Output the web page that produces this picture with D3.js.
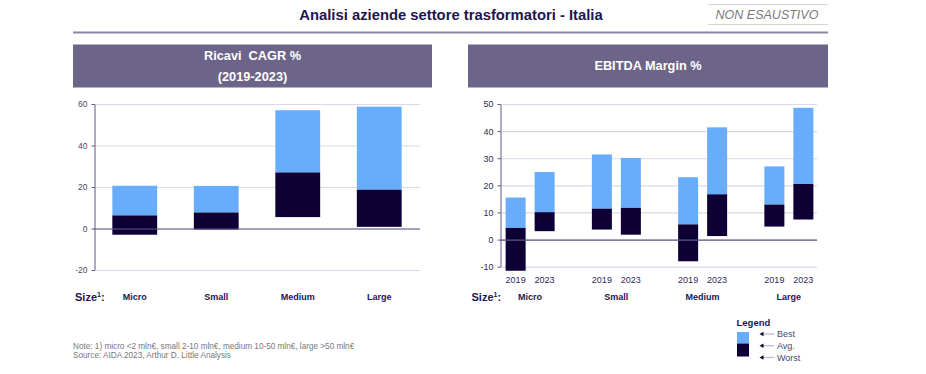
<!DOCTYPE html>
<html>
<head>
<meta charset="utf-8">
<script src="https://cdn.jsdelivr.net/npm/d3@7"></script>
<style>
body { margin: 0; background: #fff; }
svg { font-family: "Liberation Sans", Arial, sans-serif; }
</style>
</head>
<body>
<svg id="chart" width="926" height="374"></svg>
<script>
// data
var sizes = ["Micro", "Small", "Medium", "Large"];
var years = ["2019", "2023"];

// Ricavi CAGR % (2019-2023)
var cagrWorst = [-3, -0.5, 5.5, 0.8];
var cagrAvg = [6.3, 7.7, 27, 18.7];
var cagrBest = [20.6, 20.5, 57, 58.7];
var cagrTicks = [-20, 0, 20, 40, 60];

// EBITDA margin %, per size: [2019, 2023]
var ebitdaWorst = [[-11.5, 3.1], [3.7, 1.8], [-8, 1.3], [4.8, 7.4]];
var ebitdaAvg = [[4.3, 10.1], [11.4, 11.7], [5.6, 16.7], [12.9, 20.5]];
var ebitdaBest = [[15.5, 24.9], [31.4, 30.1], [23, 41.4], [27, 48.6]];
var ebitdaTicks = [-10, 0, 10, 20, 30, 40, 50];

var legendItems = ["Best", "Avg.", "Worst"];

var lightBlue = "#68adfb";
var darkNavy = "#0e0036";
var headerFill = "#6d6489";
var navy = "#1c1650";
var gridColor = "#d9d9e8";
var axisColor = "#5d5880";

var svg = d3.select("#chart");

// title block
svg.append("text")
	.attr("x", 451).attr("y", 20)
	.attr("text-anchor", "middle")
	.attr("font-size", 14.8).attr("font-weight", "bold")
	.attr("fill", navy)
	.text("Analisi aziende settore trasformatori - Italia");

svg.append("line").attr("x1", 708).attr("x2", 828).attr("y1", 4.5).attr("y2", 4.5)
	.attr("stroke", "#d4d4d4").attr("stroke-width", 1);
svg.append("line").attr("x1", 708).attr("x2", 828).attr("y1", 24.5).attr("y2", 24.5)
	.attr("stroke", "#d4d4d4").attr("stroke-width", 1);
svg.append("text")
	.attr("x", 767).attr("y", 19)
	.attr("text-anchor", "middle")
	.attr("font-size", 12.5).attr("font-style", "italic")
	.attr("fill", "#7a7a7a")
	.text("NON ESAUSTIVO");

svg.append("line").attr("x1", 73).attr("x2", 828).attr("y1", 32.5).attr("y2", 32.5)
	.attr("stroke", "#8c87a3").attr("stroke-width", 2);

// panel headers
function header(x0, x1, lines) {
	svg.append("rect")
		.attr("x", x0).attr("y", 44.5)
		.attr("width", x1 - x0).attr("height", 43)
		.attr("fill", headerFill);
	var t = svg.append("text")
		.attr("text-anchor", "middle")
		.attr("font-size", 12.75).attr("font-weight", "bold")
		.attr("fill", "#fff");
	var y0 = lines.length == 1 ? 70 : 60;
	lines.forEach(function(l, i) {
		t.append("tspan").attr("x", (x0 + x1) / 2).attr("y", y0 + i * 20.5).text(l);
	});
}
header(73, 432, ["Ricavi\u00a0 CAGR %", "(2019-2023)"]);
header(468, 828, ["EBITDA Margin %"]);

function plainNum(d) { return String(d); }

// ---------- left chart ----------
var x1 = d3.scaleBand().domain(sizes).range([94, 420])
	.paddingInner(0.45).paddingOuter(0.225);
var y1 = d3.scaleLinear().domain([-20, 60]).range([270, 104]);

var gL = svg.append("g");
gL.selectAll("line.grid").data(cagrTicks).enter()
	.append("line")
	.attr("class", "grid")
	.attr("x1", 94).attr("x2", 420)
	.attr("y1", function(d) { return y1(d) + 0.5; })
	.attr("y2", function(d) { return y1(d) + 0.5; })
	.attr("stroke", gridColor).attr("stroke-width", 1.2);

sizes.forEach(function(s, i) {
	gL.append("rect")
		.attr("x", x1(s)).attr("width", x1.bandwidth())
		.attr("y", y1(cagrBest[i]))
		.attr("height", y1(cagrAvg[i]) - y1(cagrBest[i]))
		.attr("fill", lightBlue);
	gL.append("rect")
		.attr("x", x1(s)).attr("width", x1.bandwidth())
		.attr("y", y1(cagrAvg[i]))
		.attr("height", y1(cagrWorst[i]) - y1(cagrAvg[i]))
		.attr("fill", darkNavy);
});

gL.append("line").attr("x1", 94).attr("x2", 420)
	.attr("y1", y1(0) + 0.5).attr("y2", y1(0) + 0.5)
	.attr("stroke", axisColor).attr("stroke-width", 1.2);

var axL = gL.append("g")
	.attr("transform", "translate(94.5,0)")
	.call(d3.axisLeft(y1).tickValues(cagrTicks).tickFormat(plainNum)
		.tickSize(3).tickSizeOuter(0).tickPadding(4));
axL.select(".domain").attr("stroke", axisColor);
axL.selectAll(".tick line").attr("stroke", axisColor);
axL.selectAll(".tick text")
	.attr("font-family", "Liberation Sans, Arial, sans-serif")
	.attr("font-size", 8.5).attr("fill", "#4a4a5a");

gL.selectAll("text.cat").data(sizes).enter()
	.append("text")
	.attr("class", "cat")
	.attr("x", function(d) { return x1(d) + x1.bandwidth() / 2; })
	.attr("y", 300)
	.attr("text-anchor", "middle")
	.attr("font-size", 9).attr("font-weight", "bold")
	.attr("fill", navy)
	.text(function(d) { return d; });

function sizeLabel(x) {
	var t = svg.append("text")
		.attr("x", x).attr("y", 301)
		.attr("font-size", 11).attr("font-weight", "bold")
		.attr("fill", navy);
	t.append("tspan").text("Size");
	t.append("tspan").attr("font-size", 7).attr("dy", -4).text("1");
	t.append("tspan").attr("dy", 4).text(":");
}
sizeLabel(75);

// ---------- right chart ----------
var xg = d3.scaleBand().domain(sizes).range([487, 832]);
var xy = d3.scaleBand().domain(years).range([-24.5, 24.5]).paddingInner(0.31);
var y2 = d3.scaleLinear().domain([-10, 50]).range([266.7, 104]);

var gR = svg.append("g");
gR.selectAll("line.grid").data(ebitdaTicks).enter()
	.append("line")
	.attr("class", "grid")
	.attr("x1", 500).attr("x2", 817)
	.attr("y1", function(d) { return y2(d) + 0.5; })
	.attr("y2", function(d) { return y2(d) + 0.5; })
	.attr("stroke", gridColor).attr("stroke-width", 1.2);

sizes.forEach(function(s, i) {
	var c = xg(s) + xg.bandwidth() / 2;
	years.forEach(function(yr, j) {
		var bx = c + xy(yr);
		gR.append("rect")
			.attr("x", bx).attr("width", xy.bandwidth())
			.attr("y", y2(ebitdaBest[i][j]))
			.attr("height", y2(ebitdaAvg[i][j]) - y2(ebitdaBest[i][j]))
			.attr("fill", lightBlue);
		gR.append("rect")
			.attr("x", bx).attr("width", xy.bandwidth())
			.attr("y", y2(ebitdaAvg[i][j]))
			.attr("height", y2(ebitdaWorst[i][j]) - y2(ebitdaAvg[i][j]))
			.attr("fill", darkNavy);
		gR.append("text")
			.attr("x", bx + xy.bandwidth() / 2).attr("y", 283)
			.attr("text-anchor", "middle")
			.attr("font-size", 9).attr("fill", "#2d2a55")
			.text(yr);
	});
	gR.append("text")
		.attr("x", c).attr("y", 300)
		.attr("text-anchor", "middle")
		.attr("font-size", 9).attr("font-weight", "bold")
		.attr("fill", navy)
		.text(s);
});

gR.append("line").attr("x1", 500).attr("x2", 817)
	.attr("y1", y2(0) + 0.5).attr("y2", y2(0) + 0.5)
	.attr("stroke", axisColor).attr("stroke-width", 1.2);

var axR = gR.append("g")
	.attr("transform", "translate(500.5,0)")
	.call(d3.axisLeft(y2).tickValues(ebitdaTicks).tickFormat(plainNum)
		.tickSize(3).tickSizeOuter(0).tickPadding(4));
axR.select(".domain").attr("stroke", axisColor);
axR.selectAll(".tick line").attr("stroke", axisColor);
axR.selectAll(".tick text")
	.attr("font-family", "Liberation Sans, Arial, sans-serif")
	.attr("font-size", 9).attr("fill", "#2d2a55");

sizeLabel(471.5);

// ---------- legend ----------
var gLeg = svg.append("g");
gLeg.append("text")
	.attr("x", 736.5).attr("y", 325.5)
	.attr("font-size", 9.5).attr("font-weight", "bold")
	.attr("fill", navy)
	.text("Legend");
gLeg.append("rect").attr("x", 737).attr("y", 332).attr("width", 12).attr("height", 11.5).attr("fill", lightBlue);
gLeg.append("rect").attr("x", 737).attr("y", 343.5).attr("width", 12).attr("height", 13).attr("fill", darkNavy);

var legY = d3.scalePoint().domain(legendItems).range([334, 357.5]);
legendItems.forEach(function(k) {
	var yy = legY(k);
	gLeg.append("line").attr("x1", 763).attr("x2", 774)
		.attr("y1", yy).attr("y2", yy)
		.attr("stroke", "#b8b8c8").attr("stroke-width", 1.2);
	gLeg.append("path")
		.attr("d", "M" + 759.5 + "," + yy + "l4,-2.3v4.6z")
		.attr("fill", darkNavy);
	gLeg.append("text")
		.attr("x", 777).attr("y", yy + 3.3)
		.attr("font-size", 9).attr("fill", "#4a4870")
		.text(k);
});

// ---------- notes ----------
svg.append("text")
	.attr("x", 73).attr("y", 348.5)
	.attr("font-size", 8.2).attr("fill", "#777")
	.text("Note: 1) micro <2 mln€, small 2-10 mln€, medium 10-50 mln€, large >50 mln€");
svg.append("text")
	.attr("x", 73).attr("y", 358)
	.attr("font-size", 8.2).attr("fill", "#777")
	.text("Source: AIDA 2023, Arthur D. Little Analysis");
</script>
</body>
</html>
